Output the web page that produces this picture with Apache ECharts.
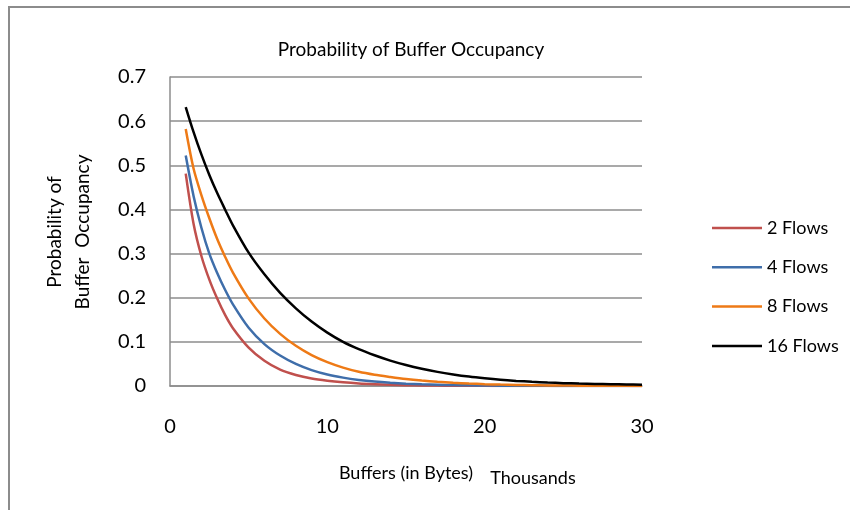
<!DOCTYPE html>
<html>
<head>
<meta charset="utf-8">
<title>Probability of Buffer Occupancy</title>
<script src="https://cdn.jsdelivr.net/npm/echarts@6/dist/echarts.min.js"></script>
<style>
  html, body { margin: 0; padding: 0; background: #fff; }
  #chart { width: 850px; height: 510px; }
</style>
</head>
<body>
<div id="chart"></div>
<script>
// Buffer size in thousands of bytes
const buffersK = [1, 1.5, 2, 2.5, 3, 3.5, 4, 5, 6, 7, 8, 9, 10, 11, 12, 13, 14, 15,
  16, 17, 18, 19, 20, 21, 22, 23, 24, 25, 26, 27, 28, 29, 30];

// Occupancy probability per number of flows
const flows2 = [0.481, 0.367, 0.294, 0.241, 0.198, 0.161, 0.131, 0.087, 0.057, 0.037,
  0.025, 0.017, 0.012, 0.0084, 0.0058, 0.0041, 0.0028, 0.0019, 0.0013, 0.0009, 0.0006,
  0.0004, 0.0003, 0.0002, 0.00014, 0.0001, 0.00007, 0.00005, 0.00003, 0.00002, 0.00002,
  0.00001, 0.00001];
const flows4 = [0.522, 0.43, 0.358, 0.3, 0.256, 0.218, 0.185, 0.132, 0.095, 0.069,
  0.05, 0.036, 0.026, 0.019, 0.0138, 0.01, 0.0073, 0.0053, 0.0038, 0.0028, 0.002,
  0.0015, 0.0011, 0.0008, 0.0006, 0.0004, 0.0003, 0.0002, 0.00016, 0.00012, 0.00009,
  0.00006, 0.00005];
const flows8 = [0.582, 0.492, 0.432, 0.38, 0.333, 0.293, 0.257, 0.198, 0.153, 0.118,
  0.091, 0.07, 0.054, 0.0416, 0.0321, 0.0255, 0.0205, 0.016, 0.0125, 0.0097, 0.0074,
  0.0056, 0.0042, 0.0032, 0.0024, 0.0018, 0.0013, 0.001, 0.0008, 0.0006, 0.0004,
  0.0003, 0.0002];
const flows16 = [0.632, 0.575, 0.524, 0.478, 0.437, 0.4, 0.364, 0.302, 0.253, 0.211,
  0.176, 0.146, 0.121, 0.1, 0.0835, 0.0697, 0.0576, 0.0475, 0.039, 0.032, 0.0262,
  0.0213, 0.0174, 0.0141, 0.0116, 0.0096, 0.0079, 0.0065, 0.0055, 0.0047, 0.004,
  0.0035, 0.003];

const seriesNames = ['2 Flows', '4 Flows', '8 Flows', '16 Flows'];
const seriesValues = [flows2, flows4, flows8, flows16];
const seriesColors = ['#C0504D', '#3F6EAA', '#EE7A16', '#000000'];

const FONT = 'Lato, "Liberation Sans", sans-serif';
const GRID_GRAY = '#8C8C8C';
// Plain horizontal stroke used as the legend key
const LINE_ICON = 'path://M0,0 L100,0 L100,5 L0,5 Z';

const chart = echarts.init(document.getElementById('chart'), null, { renderer: 'canvas' });

const series = seriesNames.map((name, s) => ({
  name: name,
  type: 'line',
  data: buffersK.map((x, i) => [x, seriesValues[s][i]]),
  symbol: 'none',
  smooth: 0.3,
  legendIcon: LINE_ICON,
  lineStyle: { color: seriesColors[s], width: 2.5 },
  itemStyle: { color: seriesColors[s] },
  emphasis: { disabled: true },
  animation: false
}));

chart.setOption({
  backgroundColor: '#ffffff',
  animation: false,
  title: {
    text: 'Probability of Buffer Occupancy',
    left: 406,
    textAlign: 'center',
    top: 35,
    textStyle: { fontFamily: FONT, fontSize: 19, fontWeight: 'normal', color: '#000' }
  },
  grid: { left: 170, right: 208, top: 77, bottom: 124 },
  legend: {
    orient: 'vertical',
    left: 712,
    top: 219,
    padding: 0,
    itemWidth: 50,
    itemHeight: 18,
    itemGap: 21.3,
    icon: LINE_ICON,
    data: seriesNames,
    itemStyle: { borderWidth: 0 },
    lineStyle: { width: 0 },
    textStyle: { fontFamily: FONT, fontSize: 18, color: '#000' }
  },
  xAxis: {
    type: 'value',
    min: 0,
    max: 30,
    interval: 10,
    name: 'Buffers (in Bytes)',
    nameLocation: 'middle',
    nameGap: 78,
    nameTextStyle: { fontFamily: FONT, fontSize: 18, color: '#000' },
    axisLine: { show: true, lineStyle: { color: GRID_GRAY, width: 1.5 } },
    axisTick: { show: false },
    splitLine: { show: false },
    axisLabel: { fontFamily: FONT, fontSize: 20, color: '#000', margin: 31 }
  },
  yAxis: {
    type: 'value',
    min: 0,
    max: 0.7,
    interval: 0.1,
    axisLine: { show: true, lineStyle: { color: GRID_GRAY, width: 1.5 } },
    axisTick: { show: false },
    splitLine: { show: true, lineStyle: { color: GRID_GRAY, width: 1.5 } },
    axisLabel: {
      fontFamily: FONT, fontSize: 20, color: '#000', margin: 24,
      formatter: v => (v === 0 ? '0' : v.toFixed(1))
    }
  },
  graphic: [
    {
      type: 'rect',
      z: -10,
      shape: { x: 9, y: 7, width: 900, height: 600 },
      style: { fill: 'none', stroke: GRID_GRAY, lineWidth: 2 },
      silent: true
    },
    {
      type: 'text',
      x: 69,
      y: 232,
      rotation: Math.PI / 2,
      style: {
        text: 'Probability of\nBuffer  Occupancy',
        fontFamily: FONT,
        fontSize: 19,
        lineHeight: 28,
        fill: '#000',
        align: 'center',
        verticalAlign: 'middle'
      },
      silent: true
    },
    {
      type: 'text',
      x: 533,
      y: 478,
      style: {
        text: 'Thousands',
        fontFamily: FONT,
        fontSize: 18,
        fill: '#000',
        align: 'center',
        verticalAlign: 'middle'
      },
      silent: true
    }
  ],
  series: series
});
</script>
</body>
</html>
